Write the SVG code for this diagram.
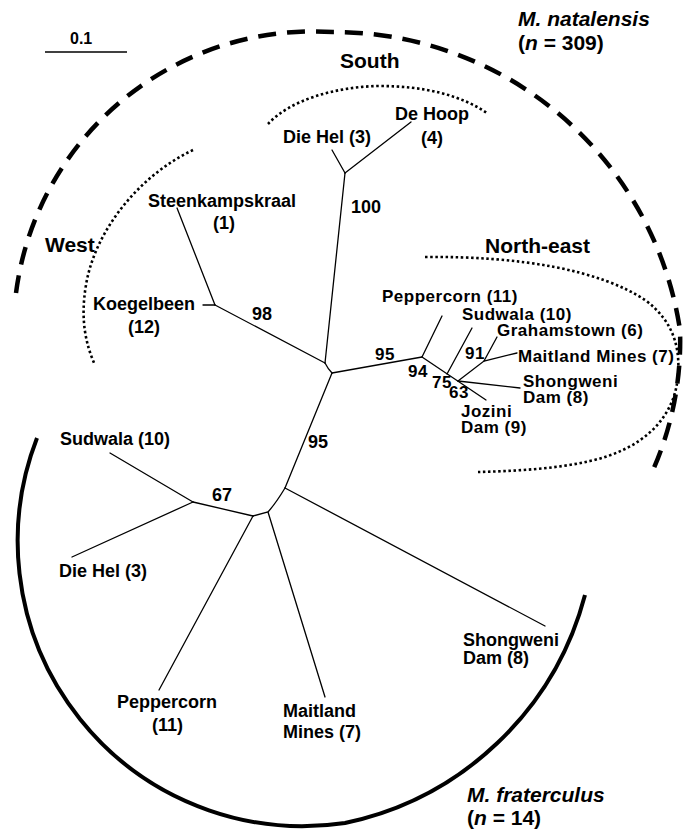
<svg xmlns="http://www.w3.org/2000/svg" width="691" height="830" viewBox="0 0 691 830">
<style>
text{font-family:"Liberation Sans",Arial,Helvetica,sans-serif;font-weight:bold;fill:#000}
.lab{font-size:18px}
.ne{font-size:17px;letter-spacing:0.5px}
.hdr{font-size:21px}
.sp{font-size:21px}
.it{font-style:italic}
.br{fill:none;stroke:#000;stroke-width:1.3;stroke-linecap:round}
.dash{fill:none;stroke:#000;stroke-width:4.5;stroke-dasharray:18 11}
.solid{fill:none;stroke:#000;stroke-width:4}
.dot{fill:none;stroke:#000;stroke-width:2.6;stroke-dasharray:2.5 2.6}
</style>
<rect width="691" height="830" fill="#fff"/>

<g id="scale">
<line x1="45" y1="52" x2="127" y2="52" stroke="#000" stroke-width="1.3"/>
<text x="70" y="44" style="font-size:16px">0.1</text>
</g>

<g id="group-arcs">
<path id="arc-natalensis" class="dash" d="M16,293 A300,300 0 0 1 333,32 A350,350 0 0 1 680,330 A320,320 0 0 1 653,470"/>
<path id="arc-fraterculus" class="solid" d="M37,438 A285,285 0 0 0 345,823 A315,315 0 0 0 585,595"/>
<path id="arc-west" class="dot" d="M193,150 C140,175 95,230 86,285 C80,320 86,345 95,365"/>
<path id="arc-south" class="dot" d="M268,124 C290,100 335,87 378,86 C425,86 460,95 487,113"/>
<path id="arc-northeast" class="dot" d="M425,257 C520,256 600,270 645,300 C675,322 680,350 678,375 C675,420 640,450 590,461 C555,469 515,471 478,472"/>
</g>

<g id="connectors">
<path class="br" d="M325,363 L345,173"/>
<path class="br" d="M345,173 L332,150"/>
<path class="br" d="M345,173 L411,122"/>
<path class="br" d="M325,363 L215,305"/>
<path class="br" d="M215,305 L177,208"/>
<path class="br" d="M215,305 L203,305"/>
<path class="br" d="M325,363 Q328,369 332,373"/>
<path class="br" d="M332,373 L422,357"/>
<path class="br" d="M422,357 L442,316"/>
<path class="br" d="M422,357 L486,400"/>
<path class="br" d="M447,374 L472,328"/>
<path class="br" d="M458,381 L484,361 L517,353"/>
<path class="br" d="M484,361 L497,337"/>
<path class="br" d="M458,381 L520,388"/>
<path class="br" d="M332,373 L285,488"/>
<path class="br" d="M285,488 Q276,503 268,512 L253,516"/>
<path class="br" d="M285,488 L545,626"/>
<path class="br" d="M268,512 L325,697"/>
<path class="br" d="M253,516 L159,690"/>
<path class="br" d="M253,516 L193,502"/>
<path class="br" d="M193,502 L110,453"/>
<path class="br" d="M193,502 L72,557"/>
</g>

<g id="headers">
<text id="hdr-south" class="hdr" x="340" y="68">South</text>
<text id="hdr-west" class="hdr" x="45" y="252">West</text>
<text id="hdr-northeast" class="hdr" x="485" y="253">North-east</text>
</g>

<g id="species-natalensis">
<text class="sp it" x="518" y="26">M. natalensis</text>
<text class="sp" x="518" y="50">(<tspan class="it">n</tspan> = 309)</text>
</g>
<g id="species-fraterculus">
<text class="sp it" x="467" y="802">M. fraterculus</text>
<text class="sp" x="467" y="825">(<tspan class="it">n</tspan> = 14)</text>
</g>

<g id="node-dehoop"><text class="lab" x="395" y="120">De Hoop</text><text class="lab" x="421" y="144">(4)</text></g>
<g id="node-diehel-s"><text class="lab" x="283" y="143">Die Hel (3)</text></g>
<g id="node-steenkampskraal"><text class="lab" x="148" y="207">Steenkampskraal</text><text class="lab" x="213" y="229">(1)</text></g>
<g id="node-koegelbeen"><text class="lab" x="93" y="310">Koegelbeen</text><text class="lab" x="128" y="333">(12)</text></g>
<g id="node-peppercorn-ne"><text class="ne" x="382" y="302">Peppercorn (11)</text></g>
<g id="node-sudwala-ne"><text class="ne" x="462" y="320">Sudwala (10)</text></g>
<g id="node-grahamstown"><text class="ne" x="497" y="336">Grahamstown (6)</text></g>
<g id="node-maitland-ne"><text class="ne" x="518" y="362">Maitland Mines (7)</text></g>
<g id="node-shongweni-ne"><text class="ne" x="523" y="387">Shongweni</text><text class="ne" x="523" y="403">Dam (8)</text></g>
<g id="node-jozini"><text class="ne" x="461" y="417">Jozini</text><text class="ne" x="461" y="433">Dam (9)</text></g>
<g id="node-sudwala-f"><text class="lab" x="60" y="445">Sudwala (10)</text></g>
<g id="node-diehel-f"><text class="lab" x="59" y="577">Die Hel (3)</text></g>
<g id="node-peppercorn-f"><text class="lab" x="117" y="708">Peppercorn</text><text class="lab" x="152" y="731">(11)</text></g>
<g id="node-maitland-f"><text class="lab" x="283" y="717">Maitland</text><text class="lab" x="283" y="738">Mines (7)</text></g>
<g id="node-shongweni-f"><text class="lab" x="463" y="646">Shongweni</text><text class="lab" x="463" y="664">Dam (8)</text></g>

<g id="support-values">
<text class="lab" x="351" y="213">100</text>
<text class="lab" x="252" y="320">98</text>
<text class="ne" x="375" y="360">95</text>
<text class="ne" x="408" y="377">94</text>
<text class="ne" x="432" y="388">75</text>
<text class="ne" x="449" y="398">63</text>
<text class="ne" x="465" y="359">91</text>
<text class="lab" x="308" y="448">95</text>
<text class="lab" x="212" y="501">67</text>
</g>
</svg>
